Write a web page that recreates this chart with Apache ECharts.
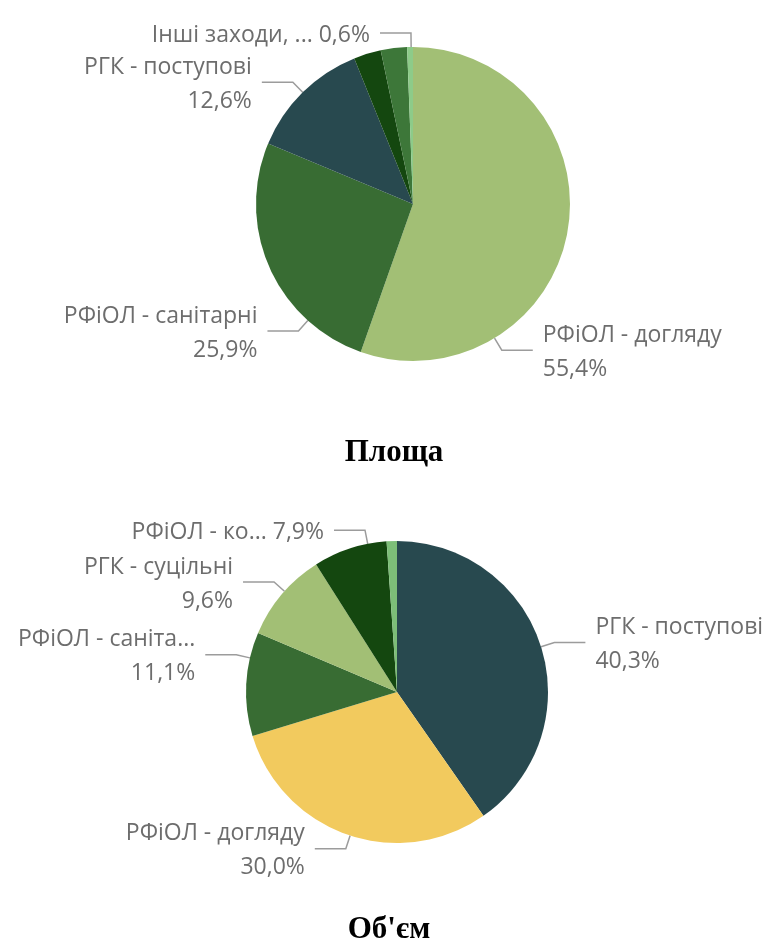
<!DOCTYPE html>
<html>
<head>
<meta charset="utf-8">
<script src="https://cdn.jsdelivr.net/npm/echarts@6/dist/echarts.min.js"></script>
<style>
  html, body { margin: 0; padding: 0; background: #ffffff; }
  #chart { width: 773px; height: 952px; }
</style>
</head>
<body>
<div id="chart"></div>
<script>
// ---- Data: Площа (area) ----
const areaNames  = ['РФіОЛ - догляду', 'РФіОЛ - санітарні', 'РГК - поступові', 'РФіОЛ - ко...', 'РГК - суцільні', 'Інші заходи, ...'];
const areaValues = [55.4, 25.9, 12.6, 2.8, 2.7, 0.6];
const areaShowLabel = [true, true, true, false, false, true];
const areaInline    = [false, false, false, false, false, true];

// ---- Data: Об'єм (volume) ----
const volNames  = ['РГК - поступові', 'РФіОЛ - догляду', 'РФіОЛ - саніта...', 'РГК - суцільні', 'РФіОЛ - ко...', 'Інші заходи, ...'];
const volValues = [40.3, 30.0, 11.1, 9.6, 7.9, 1.1];
const volShowLabel = [true, true, true, true, true, false];
const volInline    = [false, false, false, false, true, false];

const titles = ['Площа', "Об'єм"];

// ---- Styles / layout ----
const areaColors = ['#A2BF75', '#386C33', '#28494F', '#14470F', '#3D7739', '#8DCB89'];
const volColors  = ['#28494F', '#F2CA5E', '#386C33', '#A2BF75', '#14470F', '#7DBE78'];

const areaGeom = { cx: 413, cy: 204, r: 157, len1: 14, len2: 31, gap: 10, dy: 2,
                   adjust: [49, -24, 0, 0, 0, 0.4] };
const volGeom  = { cx: 397, cy: 692, r: 151, len1: 14, len2: 31, gap: 10, dy: 2,
                   adjust: [0, -1, 10, 1.5, 7, 0] };

const TEXT_COLOR = '#6d6d6d';
const LINE_COLOR = '#9c9c9c';

function fmt(v) { return v.toFixed(1).replace('.', ','); }

function makeLayout(geom, values) {
  const total = values.reduce((a, b) => a + b, 0);
  return function (p) {
    const i = p.dataIndex;
    let before = 0;
    for (let k = 0; k < i; k++) before += values[k];
    const mid = (before + values[i] / 2) / total * 360 + (geom.adjust[i] || 0);
    const t = mid * Math.PI / 180;
    const sx = Math.sin(t), sy = -Math.cos(t);
    const p0 = [geom.cx + geom.r * sx, geom.cy + geom.r * sy];
    const p1 = [p0[0] + geom.len1 * sx, p0[1] + geom.len1 * sy];
    const side = sx >= 0 ? 1 : -1;
    const p2 = [p1[0] + side * geom.len2, p1[1]];
    return {
      x: p2[0] + side * geom.gap,
      y: p2[1] + geom.dy,
      align: side > 0 ? 'left' : 'right',
      verticalAlign: 'middle',
      labelLinePoints: [p0, p1, p2]
    };
  };
}

function buildData(names, values, colors, show, inline) {
  return names.map((n, i) => ({
    name: n,
    value: values[i],
    itemStyle: { color: colors[i] },
    label: { show: show[i], formatter: inline[i] ? (n + ' ' + fmt(values[i]) + '%') : (n + '\n' + fmt(values[i]) + '%') },
    labelLine: { show: show[i] }
  }));
}

function pieSeries(names, values, colors, show, inline, geom) {
  return {
    type: 'pie',
    center: [geom.cx, geom.cy],
    radius: [0, geom.r],
    startAngle: 90,
    clockwise: true,
    animation: false,
    silent: true,
    avoidLabelOverlap: false,
    itemStyle: { borderColor: '#ffffff', borderWidth: 0 },
    label: {
      show: true,
      position: 'outside',
      color: TEXT_COLOR,
      fontFamily: 'Open Sans',
      fontSize: 23,
      lineHeight: 34
    },
    labelLine: { show: true, smooth: false, lineStyle: { color: LINE_COLOR, width: 1.5 } },
    labelLayout: makeLayout(geom, values),
    data: buildData(names, values, colors, show, inline)
  };
}

const chart = echarts.init(document.getElementById('chart'), null, { renderer: 'canvas' });
chart.setOption({
  backgroundColor: '#ffffff',
  animation: false,
  series: [
    pieSeries(areaNames, areaValues, areaColors, areaShowLabel, areaInline, areaGeom),
    pieSeries(volNames, volValues, volColors, volShowLabel, volInline, volGeom)
  ],
  graphic: [
    { type: 'text', x: 394, y: 453, style: { text: titles[0], font: 'bold 31px "Liberation Serif"', fill: '#000', textAlign: 'center', textVerticalAlign: 'middle' } },
    { type: 'text', x: 389, y: 930, style: { text: titles[1], font: 'bold 31px "Liberation Serif"', fill: '#000', textAlign: 'center', textVerticalAlign: 'middle' } }
  ]
});
</script>
</body>
</html>
